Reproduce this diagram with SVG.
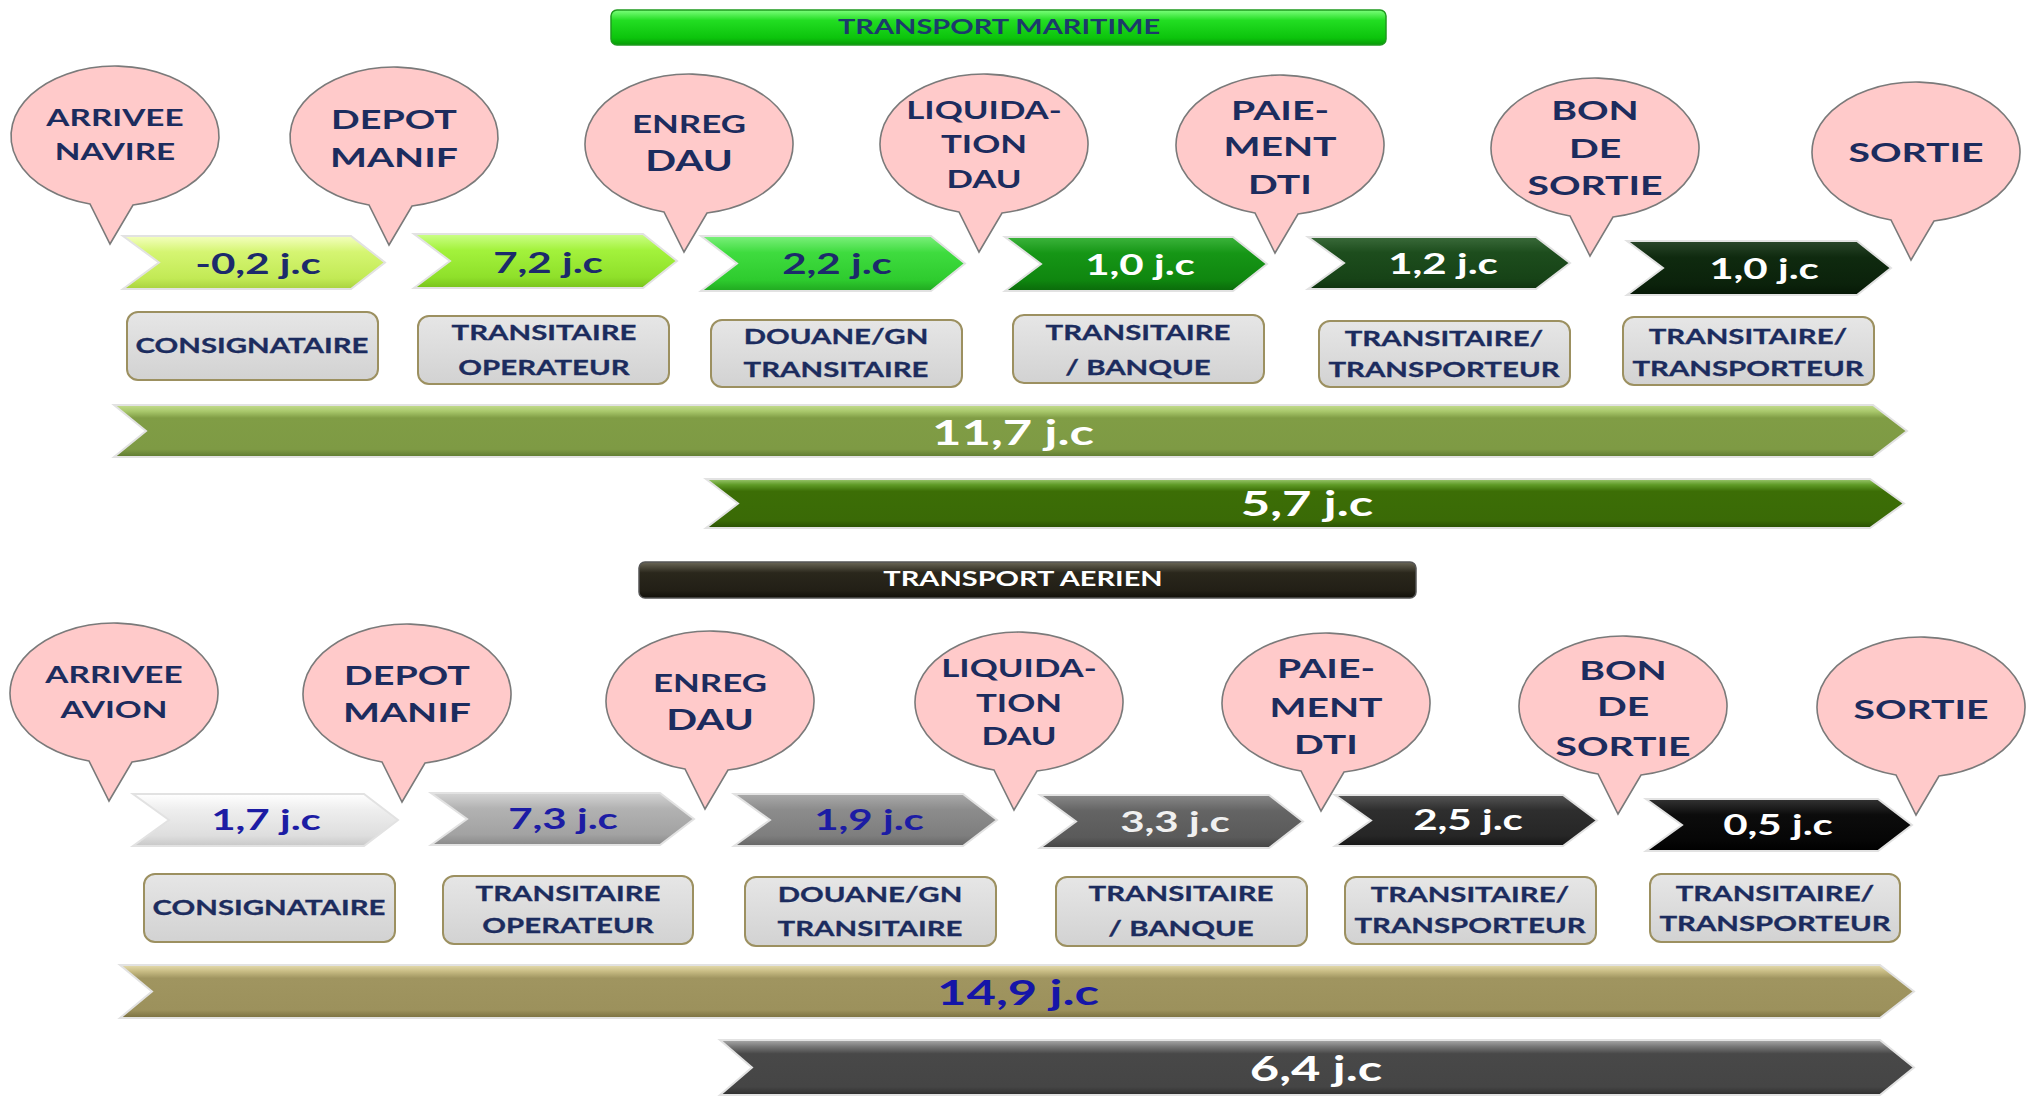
<svg xmlns="http://www.w3.org/2000/svg" xmlns:xlink="http://www.w3.org/1999/xlink" width="2031" height="1097" viewBox="0 0 2031 1097">
<defs>
<style>
.bt{font-family:Lato,"Open Sans","DejaVu Sans",sans-serif;font-weight:bold;fill:#1c2c5e;text-anchor:middle}
.rt{font-family:Lato,"Open Sans","DejaVu Sans",sans-serif;font-weight:bold;fill:#1c2c5e;text-anchor:middle;font-size:21px;stroke:#1c2c5e;stroke-width:0.3}
.ct{font-family:Lato,"Open Sans","DejaVu Sans",sans-serif;font-weight:bold;text-anchor:middle;font-size:29px}
.lt{font-family:Lato,"Open Sans","DejaVu Sans",sans-serif;font-weight:bold;text-anchor:middle;font-size:35px}
.hd{font-family:Lato,"Open Sans","DejaVu Sans",sans-serif;font-weight:bold;text-anchor:middle;font-size:20px}
.bub{fill:#ffcaca;stroke:#7a7a7a;stroke-width:1.6}
.box{fill:url(#boxg);stroke:#9c9060;stroke-width:2}
.chev{stroke:#e2e2e2;stroke-width:2;stroke-linejoin:miter}
.navy{fill:#1c2a6b}
.blue{fill:#1c1ca4}
.wht{fill:#ffffff}
</style>
<path id="bubble" d="M -25,68 A 104 70 0 1 1 18,69 L -5,108 Z"/>
<linearGradient id="boxg" x1="0" y1="0" x2="0" y2="1"><stop offset="0" stop-color="#e6e6e6"/><stop offset="1" stop-color="#d2d2d2"/></linearGradient>
<linearGradient id="banG" x1="0" y1="0" x2="0" y2="1"><stop offset="0" stop-color="#7cff7c"/><stop offset="0.3" stop-color="#22dd22"/><stop offset="0.8" stop-color="#0cc40c"/><stop offset="1" stop-color="#079a07"/></linearGradient>
<linearGradient id="banB" x1="0" y1="0" x2="0" y2="1"><stop offset="0" stop-color="#6a6656"/><stop offset="0.3" stop-color="#2a271c"/><stop offset="0.8" stop-color="#221f16"/><stop offset="1" stop-color="#12100a"/></linearGradient>
<linearGradient id="g1" x1="0" y1="0" x2="0" y2="1"><stop offset="0" stop-color="#f4ffc0"/><stop offset="0.3" stop-color="#d5f572"/><stop offset="0.8" stop-color="#c2ea55"/><stop offset="1" stop-color="#a9d23e"/></linearGradient>
<linearGradient id="g2" x1="0" y1="0" x2="0" y2="1"><stop offset="0" stop-color="#ccff88"/><stop offset="0.3" stop-color="#a3f23c"/><stop offset="0.8" stop-color="#8fe02a"/><stop offset="1" stop-color="#78c21c"/></linearGradient>
<linearGradient id="g3" x1="0" y1="0" x2="0" y2="1"><stop offset="0" stop-color="#7cf07c"/><stop offset="0.3" stop-color="#3fdc3f"/><stop offset="0.8" stop-color="#2ecb2e"/><stop offset="1" stop-color="#20a820"/></linearGradient>
<linearGradient id="g4" x1="0" y1="0" x2="0" y2="1"><stop offset="0" stop-color="#3cb43c"/><stop offset="0.3" stop-color="#169616"/><stop offset="0.8" stop-color="#0f860f"/><stop offset="1" stop-color="#0a6a0a"/></linearGradient>
<linearGradient id="g5" x1="0" y1="0" x2="0" y2="1"><stop offset="0" stop-color="#3a6a3a"/><stop offset="0.3" stop-color="#1d4d1d"/><stop offset="0.8" stop-color="#174317"/><stop offset="1" stop-color="#0f330f"/></linearGradient>
<linearGradient id="g6" x1="0" y1="0" x2="0" y2="1"><stop offset="0" stop-color="#2a462a"/><stop offset="0.3" stop-color="#0f2a0f"/><stop offset="0.8" stop-color="#0b220b"/><stop offset="1" stop-color="#061806"/></linearGradient>
<linearGradient id="h1" x1="0" y1="0" x2="0" y2="1"><stop offset="0" stop-color="#ffffff"/><stop offset="0.3" stop-color="#eeeeee"/><stop offset="0.8" stop-color="#dedede"/><stop offset="1" stop-color="#c8c8c8"/></linearGradient>
<linearGradient id="h2" x1="0" y1="0" x2="0" y2="1"><stop offset="0" stop-color="#d4d4d4"/><stop offset="0.3" stop-color="#b2b2b2"/><stop offset="0.8" stop-color="#a2a2a2"/><stop offset="1" stop-color="#8a8a8a"/></linearGradient>
<linearGradient id="h3" x1="0" y1="0" x2="0" y2="1"><stop offset="0" stop-color="#aaaaaa"/><stop offset="0.3" stop-color="#8c8c8c"/><stop offset="0.8" stop-color="#7e7e7e"/><stop offset="1" stop-color="#666666"/></linearGradient>
<linearGradient id="h4" x1="0" y1="0" x2="0" y2="1"><stop offset="0" stop-color="#888888"/><stop offset="0.3" stop-color="#646464"/><stop offset="0.8" stop-color="#5a5a5a"/><stop offset="1" stop-color="#444444"/></linearGradient>
<linearGradient id="h5" x1="0" y1="0" x2="0" y2="1"><stop offset="0" stop-color="#555555"/><stop offset="0.3" stop-color="#2e2e2e"/><stop offset="0.8" stop-color="#262626"/><stop offset="1" stop-color="#161616"/></linearGradient>
<linearGradient id="h6" x1="0" y1="0" x2="0" y2="1"><stop offset="0" stop-color="#333333"/><stop offset="0.3" stop-color="#0c0c0c"/><stop offset="0.8" stop-color="#060606"/><stop offset="1" stop-color="#000000"/></linearGradient>
<linearGradient id="b1" x1="0" y1="0" x2="0" y2="1"><stop offset="0" stop-color="#c4dc8e"/><stop offset="0.12" stop-color="#a9c86c"/><stop offset="0.25" stop-color="#809d45"/><stop offset="0.85" stop-color="#7e9a44"/><stop offset="1" stop-color="#5e7a30"/></linearGradient>
<linearGradient id="b2" x1="0" y1="0" x2="0" y2="1"><stop offset="0" stop-color="#9cc870"/><stop offset="0.12" stop-color="#5e9a26"/><stop offset="0.25" stop-color="#3c6e06"/><stop offset="0.85" stop-color="#3a6a06"/><stop offset="1" stop-color="#2a5004"/></linearGradient>
<linearGradient id="b3" x1="0" y1="0" x2="0" y2="1"><stop offset="0" stop-color="#e6dcae"/><stop offset="0.12" stop-color="#c8bc84"/><stop offset="0.25" stop-color="#a09560"/><stop offset="0.85" stop-color="#9c915c"/><stop offset="1" stop-color="#7a7040"/></linearGradient>
<linearGradient id="b4" x1="0" y1="0" x2="0" y2="1"><stop offset="0" stop-color="#aaaaaa"/><stop offset="0.12" stop-color="#777777"/><stop offset="0.25" stop-color="#484848"/><stop offset="0.85" stop-color="#454545"/><stop offset="1" stop-color="#2e2e2e"/></linearGradient>
</defs>
<rect width="2031" height="1097" fill="#ffffff"/>

<!-- ===== MARITIME ===== -->
<g id="banner-maritime">
<rect x="611" y="10" width="775" height="35" rx="6" fill="url(#banG)" stroke="#1f9a1f" stroke-width="1.5"/>
<g transform="translate(999 0) scale(1.45 1)"><text class="hd" x="0" y="34" fill="#1c3a6b">TRANSPORT MARITIME</text></g>
</g>

<g id="m-bubble-1"><use xlink:href="#bubble" class="bub" transform="translate(115 136)"/>
<g transform="translate(115 0) scale(1.45 1)"><text class="bt" font-size="23" x="0" y="126">ARRIVEE</text><text class="bt" font-size="23" x="0" y="160">NAVIRE</text></g></g>
<g id="m-bubble-2"><use xlink:href="#bubble" class="bub" transform="translate(394 137)"/>
<g transform="translate(394 0) scale(1.45 1)"><text class="bt" font-size="26" x="0" y="129">DEPOT</text><text class="bt" font-size="27" x="0" y="167">MANIF</text></g></g>
<g id="m-bubble-3"><use xlink:href="#bubble" class="bub" transform="translate(689 144)"/>
<g transform="translate(689 0) scale(1.45 1)"><text class="bt" font-size="24" x="0" y="133">ENREG</text><text class="bt" font-size="28" x="0" y="171">DAU</text></g></g>
<g id="m-bubble-4"><use xlink:href="#bubble" class="bub" transform="translate(984 144)"/>
<g transform="translate(984 0) scale(1.45 1)"><text class="bt" font-size="24" x="0" y="119">LIQUIDA-</text><text class="bt" font-size="24" x="0" y="153">TION</text><text class="bt" font-size="24" x="0" y="188">DAU</text></g></g>
<g id="m-bubble-5"><use xlink:href="#bubble" class="bub" transform="translate(1280 145)"/>
<g transform="translate(1280 0) scale(1.45 1)"><text class="bt" font-size="27" x="0" y="120">PAIE-</text><text class="bt" font-size="27" x="0" y="156">MENT</text><text class="bt" font-size="27" x="0" y="194">DTI</text></g></g>
<g id="m-bubble-6"><use xlink:href="#bubble" class="bub" transform="translate(1595 148)"/>
<g transform="translate(1595 0) scale(1.45 1)"><text class="bt" font-size="27" x="0" y="120">BON</text><text class="bt" font-size="27" x="0" y="158">DE</text><text class="bt" font-size="27" x="0" y="195">SORTIE</text></g></g>
<g id="m-bubble-7"><use xlink:href="#bubble" class="bub" transform="translate(1916 152)"/>
<g transform="translate(1916 0) scale(1.45 1)"><text class="bt" font-size="27" x="0" y="162">SORTIE</text></g></g>

<g id="m-step-1"><path class="chev" fill="url(#g1)" d="M123,236 L351,236 L385,262.5 L351,289 L123,289 L159,262.5 Z"/>
<g transform="translate(258 0) scale(1.45 1)"><text class="ct navy" x="0" y="274">-0,2 j.c</text></g></g>
<g id="m-step-2"><path class="chev" fill="url(#g2)" d="M414,234 L643,234 L677,261 L643,288 L414,288 L450,261 Z"/>
<g transform="translate(548 0) scale(1.45 1)"><text class="ct navy" x="0" y="273">7,2 j.c</text></g></g>
<g id="m-step-3"><path class="chev" fill="url(#g3)" d="M701,236 L931,236 L965,263.5 L931,291 L701,291 L737,263.5 Z"/>
<g transform="translate(837 0) scale(1.45 1)"><text class="ct navy" x="0" y="274">2,2 j.c</text></g></g>
<g id="m-step-4"><path class="chev" fill="url(#g4)" d="M1005,237 L1233,237 L1267,264 L1233,291 L1005,291 L1041,264 Z"/>
<g transform="translate(1140 0) scale(1.45 1)"><text class="ct wht" x="0" y="275">1,0 j.c</text></g></g>
<g id="m-step-5"><path class="chev" fill="url(#g5)" d="M1308,237 L1536,237 L1570,263 L1536,289 L1308,289 L1344,263 Z"/>
<g transform="translate(1443 0) scale(1.45 1)"><text class="ct wht" x="0" y="274">1,2 j.c</text></g></g>
<g id="m-step-6"><path class="chev" fill="url(#g6)" d="M1627,241 L1857,241 L1891,268 L1857,295 L1627,295 L1663,268 Z"/>
<g transform="translate(1764 0) scale(1.45 1)"><text class="ct wht" x="0" y="279">1,0 j.c</text></g></g>

<g id="m-role-1"><rect class="box" x="127" y="312" width="251" height="68" rx="11"/>
<g transform="translate(252 0) scale(1.4 1)"><text class="rt" x="0" y="353">CONSIGNATAIRE</text></g></g>
<g id="m-role-2"><rect class="box" x="418" y="316" width="251" height="68" rx="11"/>
<g transform="translate(544 0) scale(1.4 1)"><text class="rt" x="0" y="340">TRANSITAIRE</text><text class="rt" x="0" y="375">OPERATEUR</text></g></g>
<g id="m-role-3"><rect class="box" x="711" y="320" width="251" height="67" rx="11"/>
<g transform="translate(836 0) scale(1.4 1)"><text class="rt" x="0" y="344">DOUANE/GN</text><text class="rt" x="0" y="377">TRANSITAIRE</text></g></g>
<g id="m-role-4"><rect class="box" x="1013" y="315" width="251" height="68" rx="11"/>
<g transform="translate(1138 0) scale(1.4 1)"><text class="rt" x="0" y="340">TRANSITAIRE</text><text class="rt" x="0" y="375">/ BANQUE</text></g></g>
<g id="m-role-5"><rect class="box" x="1319" y="321" width="251" height="66" rx="11"/>
<g transform="translate(1444 0) scale(1.4 1)"><text class="rt" x="0" y="346">TRANSITAIRE/</text><text class="rt" x="0" y="377">TRANSPORTEUR</text></g></g>
<g id="m-role-6"><rect class="box" x="1623" y="317" width="251" height="68" rx="11"/>
<g transform="translate(1748 0) scale(1.4 1)"><text class="rt" x="0" y="344">TRANSITAIRE/</text><text class="rt" x="0" y="376">TRANSPORTEUR</text></g></g>

<g id="m-total"><path class="chev" fill="url(#b1)" d="M114,405 L1873,405 L1907,431 L1873,457 L114,457 L146,431 Z"/>
<g transform="translate(1013 0) scale(1.45 1)"><text class="lt wht" x="0" y="445">11,7 j.c</text></g></g>
<g id="m-partial"><path class="chev" fill="url(#b2)" d="M706,479 L1870,479 L1904,503.5 L1870,528 L706,528 L738,503.5 Z"/>
<g transform="translate(1307 0) scale(1.45 1)"><text class="lt wht" x="0" y="516">5,7 j.c</text></g></g>

<!-- ===== AERIEN ===== -->
<g id="banner-aerien">
<rect x="639" y="562" width="777" height="36" rx="6" fill="url(#banB)" stroke="#555" stroke-width="1.5"/>
<g transform="translate(1023 0) scale(1.45 1)"><text class="hd" x="0" y="586" fill="#ffffff">TRANSPORT AERIEN</text></g>
</g>

<g id="a-bubble-1"><use xlink:href="#bubble" class="bub" transform="translate(114 693)"/>
<g transform="translate(114 0) scale(1.45 1)"><text class="bt" font-size="23" x="0" y="683">ARRIVEE</text><text class="bt" font-size="23" x="0" y="718">AVION</text></g></g>
<g id="a-bubble-2"><use xlink:href="#bubble" class="bub" transform="translate(407 694)"/>
<g transform="translate(407 0) scale(1.45 1)"><text class="bt" font-size="26" x="0" y="685">DEPOT</text><text class="bt" font-size="27" x="0" y="722">MANIF</text></g></g>
<g id="a-bubble-3"><use xlink:href="#bubble" class="bub" transform="translate(710 701)"/>
<g transform="translate(710 0) scale(1.45 1)"><text class="bt" font-size="24" x="0" y="692">ENREG</text><text class="bt" font-size="28" x="0" y="730">DAU</text></g></g>
<g id="a-bubble-4"><use xlink:href="#bubble" class="bub" transform="translate(1019 702)"/>
<g transform="translate(1019 0) scale(1.45 1)"><text class="bt" font-size="24" x="0" y="677">LIQUIDA-</text><text class="bt" font-size="24" x="0" y="712">TION</text><text class="bt" font-size="24" x="0" y="745">DAU</text></g></g>
<g id="a-bubble-5"><use xlink:href="#bubble" class="bub" transform="translate(1326 703)"/>
<g transform="translate(1326 0) scale(1.45 1)"><text class="bt" font-size="27" x="0" y="678">PAIE-</text><text class="bt" font-size="27" x="0" y="717">MENT</text><text class="bt" font-size="27" x="0" y="754">DTI</text></g></g>
<g id="a-bubble-6"><use xlink:href="#bubble" class="bub" transform="translate(1623 706)"/>
<g transform="translate(1623 0) scale(1.45 1)"><text class="bt" font-size="27" x="0" y="680">BON</text><text class="bt" font-size="27" x="0" y="716">DE</text><text class="bt" font-size="27" x="0" y="756">SORTIE</text></g></g>
<g id="a-bubble-7"><use xlink:href="#bubble" class="bub" transform="translate(1921 707)"/>
<g transform="translate(1921 0) scale(1.45 1)"><text class="bt" font-size="27" x="0" y="719">SORTIE</text></g></g>

<g id="a-step-1"><path class="chev" fill="url(#h1)" d="M133,794 L364,794 L398,820 L364,846 L133,846 L169,820 Z"/>
<g transform="translate(266 0) scale(1.45 1)"><text class="ct blue" x="0" y="830">1,7 j.c</text></g></g>
<g id="a-step-2"><path class="chev" fill="url(#h2)" d="M431,793 L660,793 L694,819 L660,845 L431,845 L467,819 Z"/>
<g transform="translate(563 0) scale(1.45 1)"><text class="ct blue" x="0" y="829">7,3 j.c</text></g></g>
<g id="a-step-3"><path class="chev" fill="url(#h3)" d="M734,794 L963,794 L997,820 L963,846 L734,846 L770,820 Z"/>
<g transform="translate(869 0) scale(1.45 1)"><text class="ct blue" x="0" y="830">1,9 j.c</text></g></g>
<g id="a-step-4"><path class="chev" fill="url(#h4)" d="M1040,795 L1269,795 L1303,821.5 L1269,848 L1040,848 L1076,821.5 Z"/>
<g transform="translate(1175 0) scale(1.45 1)"><text class="ct" fill="#f0f0f0" x="0" y="832">3,3 j.c</text></g></g>
<g id="a-step-5"><path class="chev" fill="url(#h5)" d="M1335,795 L1563,795 L1597,820.5 L1563,846 L1335,846 L1371,820.5 Z"/>
<g transform="translate(1468 0) scale(1.45 1)"><text class="ct wht" x="0" y="830">2,5 j.c</text></g></g>
<g id="a-step-6"><path class="chev" fill="url(#h6)" d="M1646,799 L1878,799 L1912,825 L1878,851 L1646,851 L1682,825 Z"/>
<g transform="translate(1778 0) scale(1.45 1)"><text class="ct wht" x="0" y="835">0,5 j.c</text></g></g>

<g id="a-role-1"><rect class="box" x="144" y="874" width="251" height="68" rx="11"/>
<g transform="translate(269 0) scale(1.4 1)"><text class="rt" x="0" y="915">CONSIGNATAIRE</text></g></g>
<g id="a-role-2"><rect class="box" x="443" y="876" width="250" height="68" rx="11"/>
<g transform="translate(568 0) scale(1.4 1)"><text class="rt" x="0" y="901">TRANSITAIRE</text><text class="rt" x="0" y="933">OPERATEUR</text></g></g>
<g id="a-role-3"><rect class="box" x="745" y="877" width="251" height="69" rx="11"/>
<g transform="translate(870 0) scale(1.4 1)"><text class="rt" x="0" y="902">DOUANE/GN</text><text class="rt" x="0" y="936">TRANSITAIRE</text></g></g>
<g id="a-role-4"><rect class="box" x="1056" y="877" width="251" height="69" rx="11"/>
<g transform="translate(1181 0) scale(1.4 1)"><text class="rt" x="0" y="901">TRANSITAIRE</text><text class="rt" x="0" y="936">/ BANQUE</text></g></g>
<g id="a-role-5"><rect class="box" x="1345" y="877" width="251" height="67" rx="11"/>
<g transform="translate(1470 0) scale(1.4 1)"><text class="rt" x="0" y="902">TRANSITAIRE/</text><text class="rt" x="0" y="933">TRANSPORTEUR</text></g></g>
<g id="a-role-6"><rect class="box" x="1650" y="874" width="250" height="68" rx="11"/>
<g transform="translate(1775 0) scale(1.4 1)"><text class="rt" x="0" y="901">TRANSITAIRE/</text><text class="rt" x="0" y="931">TRANSPORTEUR</text></g></g>

<g id="a-total"><path class="chev" fill="url(#b3)" d="M120,965 L1880,965 L1914,991.5 L1880,1018 L120,1018 L152,991.5 Z"/>
<g transform="translate(1018 0) scale(1.45 1)"><text class="lt" fill="#1515a8" x="0" y="1005">14,9 j.c</text></g></g>
<g id="a-partial"><path class="chev" fill="url(#b4)" d="M720,1040 L1880,1040 L1914,1067.5 L1880,1095 L720,1095 L752,1067.5 Z"/>
<g transform="translate(1316 0) scale(1.45 1)"><text class="lt wht" x="0" y="1081">6,4 j.c</text></g></g>

<g id="connectors"/>
</svg>
